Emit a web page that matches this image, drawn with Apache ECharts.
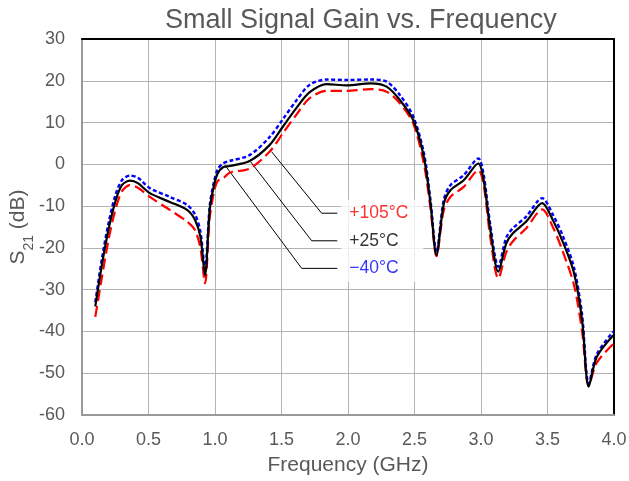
<!DOCTYPE html>
<html>
<head>
<meta charset="utf-8">
<script src="https://cdn.jsdelivr.net/npm/echarts@6/dist/echarts.min.js"></script>
<style>html,body{margin:0;padding:0;background:#fff}#c{width:629px;height:481px}</style>
</head>
<body>
<div id="c"></div>
<script>
// Frequency points (GHz)
var freq = [0.10,0.15,0.20,0.25,0.30,0.36,0.42,0.51,0.66,0.79,0.85,0.89,0.925,0.96,0.99,1.02,1.06,1.11,1.26,1.41,1.51,1.61,1.71,1.84,1.99,2.17,2.29,2.39,2.49,2.57,2.62,2.665,2.72,2.77,2.87,2.98,3.02,3.07,3.13,3.19,3.24,3.34,3.46,3.54,3.62,3.70,3.76,3.81,3.87,3.995];
// S21 (dB) at +25°C
var s21_25 = [-34,-24,-15.5,-9,-5,-3.9,-4.5,-6.9,-9.0,-10.9,-13.3,-17.3,-26.5,-10.9,-5.4,-2.2,-0.7,-0.4,0.8,4.6,9.0,13.4,17.2,19.2,18.9,19.4,18.6,15.4,10.6,1.8,-9.3,-21.7,-9.5,-6.2,-3.8,0.2,-3.8,-15.7,-25.7,-18.9,-16.5,-13.7,-9.3,-13.3,-18.9,-26.1,-37.3,-53.2,-46.1,-40.9];
// S21 (dB) at -40°C
var s21_m40 = [-33,-22.5,-14,-7.5,-3.8,-2.7,-3.2,-5.7,-7.8,-9.7,-12,-16,-25,-10,-4.5,-1.2,0.2,0.8,2.2,6.5,10.8,15.2,19.0,20.3,20.2,20.3,19.8,16.6,11.5,2.8,-8.5,-21,-8.5,-5.0,-2.6,1.4,-2.5,-14.5,-24.5,-17.5,-15.3,-12.5,-8.1,-12,-17.5,-24.8,-36,-52.5,-45.5,-40];
// S21 (dB) at +105°C
var s21_105 = [-36.5,-27,-18,-11,-6.5,-5.0,-5.6,-7.8,-10.9,-13.7,-15.8,-20,-28.5,-13,-7,-4,-3.4,-2.0,-1.0,3.0,7.4,11.8,15.8,17.6,17.6,18.0,17.4,14.6,9.8,0.2,-10.5,-22,-11,-7.8,-5.4,-1.4,-5,-17.5,-27.3,-21,-18.4,-15.3,-10.8,-15,-21.3,-29,-40,-53,-47.5,-43];
// Annotation labels and leader lines (data coordinates)
var labelTexts = ['+105°C','+25°C','\u221240°C'];
var labelColors = ['#ff0000','#000000','#0000ff'];
var leader105 = [[1.426,3.0],[1.802,-11.7],[1.9195,-11.7]];
var leader25 = [[1.268,0.6],[1.727,-18.3],[1.9195,-18.3]];
var leaderM40 = [[1.075,-0.2],[1.652,-24.9],[1.9195,-24.9]];
var xTicks = {min:0, max:4, interval:0.5};
var yTicks = {min:-60, max:30, interval:10};

function zip(xs, ys){ return xs.map(function(x,i){ return [x, ys[i]]; }); }

var FONT = 'Liberation Sans, Arial, sans-serif';
var TXT = '#595959';
var chart = echarts.init(document.getElementById('c'), null, {renderer:'canvas'});
var leaderStyle = {type:'line', xAxisIndex:0, yAxisIndex:0, symbol:'none', silent:true, z:3,
  lineStyle:{color:'#000', width:1}, animation:false};

chart.setOption({
  animation:false,
  backgroundColor:'#fff',
  title:{text:'Small Signal Gain vs. Frequency', left:160, top:2,
    textStyle:{fontFamily:FONT, fontSize:27, fontWeight:'normal', color:TXT}},
  grid:{left:82, right:15, top:39, bottom:66, containLabel:false, outerBoundsMode:'none'},
  graphic:[{
    type:'text', x:18, y:227, rotation:Math.PI/2, silent:true,
    style:{text:'{a|S}{b|21}{a| (dB)}', align:'center', verticalAlign:'middle',
      rich:{a:{fontFamily:FONT, fontSize:21, fill:TXT, color:TXT},
            b:{fontFamily:FONT, fontSize:14, fill:TXT, color:TXT, verticalAlign:'bottom', padding:[0,0,-8,0]}}}
  }],
  xAxis:[{
    type:'value', min:xTicks.min, max:xTicks.max, interval:xTicks.interval,
    name:'Frequency (GHz)', nameLocation:'middle', nameGap:40,
    nameTextStyle:{fontFamily:FONT, fontSize:21, color:TXT},
    axisLine:{show:true, onZero:false, lineStyle:{color:'#999999', width:2}},
    axisTick:{show:false},
    axisLabel:{fontFamily:FONT, fontSize:18, color:TXT, margin:16,
      formatter:function(v){ return v.toFixed(1); }},
    splitLine:{show:true, lineStyle:{color:'#b4b4b4', width:1}}
  },{
    type:'value', position:'top', min:xTicks.min, max:xTicks.max,
    axisLine:{show:true, onZero:false, lineStyle:{color:'#000', width:2}},
    axisTick:{show:false}, axisLabel:{show:false}, splitLine:{show:false}
  }],
  yAxis:[{
    type:'value', min:yTicks.min, max:yTicks.max, interval:yTicks.interval,
    axisLine:{show:true, onZero:false, lineStyle:{color:'#999999', width:2}},
    axisTick:{show:false},
    axisLabel:{fontFamily:FONT, fontSize:18, color:TXT, margin:17},
    splitLine:{show:true, lineStyle:{color:'#b4b4b4', width:1}}
  },{
    type:'value', position:'right', min:yTicks.min, max:yTicks.max,
    axisLine:{show:true, onZero:false, lineStyle:{color:'#000', width:2}},
    axisTick:{show:false}, axisLabel:{show:false}, splitLine:{show:false}
  }],
  series:[
    Object.assign({}, leaderStyle, {data:leader105}),
    Object.assign({}, leaderStyle, {data:leader25}),
    Object.assign({}, leaderStyle, {data:leaderM40}),
    {name:'+105°C', type:'line', data:zip(freq, s21_105), symbol:'none', smooth:0.3, z:4,
      lineStyle:{color:'#ff0000', width:2.2, type:[11,5]}},
    {name:'+25°C', type:'line', data:zip(freq, s21_25), symbol:'none', smooth:0.3, z:5,
      lineStyle:{color:'#000000', width:2.2}},
    {name:'-40°C', type:'line', data:zip(freq, s21_m40), symbol:'none', smooth:0.3, z:4,
      lineStyle:{color:'#0000ff', width:2.4, type:[4,2.5]}},
    {type:'scatter', symbolSize:0, silent:true, z:10,
      data:[leader105[2], leader25[2], leaderM40[2]].map(function(p,i){
        return {value:p, label:{show:true, position:'right', distance:4,
          formatter:labelTexts[i], color:labelColors[i], fontFamily:FONT, fontSize:17.5,
          backgroundColor:'#ffffff', padding:[5,8,5,8], width:66, lineHeight:17, align:'left'}};
      })}
  ]
});
</script>
</body>
</html>
